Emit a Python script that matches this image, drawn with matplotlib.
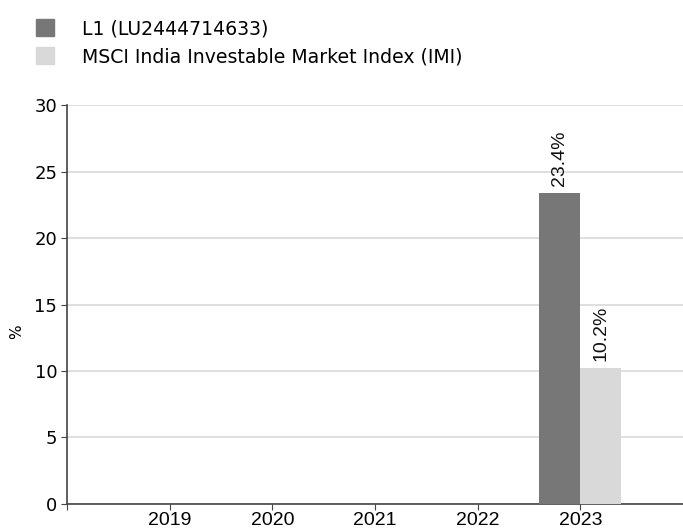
import numpy as np
import matplotlib.pyplot as plt
from matplotlib.patches import Patch

# Data
years = ["2019", "2020", "2021", "2022", "2023"]
fund = [np.nan, np.nan, np.nan, np.nan, 23.4]
index = [np.nan, np.nan, np.nan, np.nan, 10.2]
series_names = ["L1 (LU2444714633)", "MSCI India Investable Market Index (IMI)"]
colors = ["#777777", "#d9d9d9"]

fig = plt.figure(figsize=(6.83, 5.31), dpi=100)
ax = fig.add_axes([0.098, 0.051, 0.902, 0.751])

x = np.arange(len(years))
w = 0.4
b1 = ax.bar(x - w / 2, fund, w, color=colors[0], zorder=3)
b2 = ax.bar(x + w / 2, index, w, color=colors[1], zorder=3)

# value labels, rotated
for bars, vals in [(b1, fund), (b2, index)]:
    for rect, v in zip(bars, vals):
        if np.isnan(v):
            continue
        ax.annotate(f"{v:.1f}%", (rect.get_x() + rect.get_width() / 2, v),
                    xytext=(0, 5), textcoords="offset points",
                    rotation=90, ha="center", va="bottom", fontsize=14,
                    family="Liberation Sans", color="#111111")

ax.set_xlim(-1, 5)
ax.set_ylim(0, 30)
ax.set_yticks(np.arange(0, 31, 5))
ax.set_xticks(np.arange(-1, 5))
ax.set_xticklabels([""] + years, fontsize=14, family="Liberation Sans")
ax.tick_params(axis="y", labelsize=13, length=4, pad=3, color="#444444")
ax.tick_params(axis="x", length=4, pad=2, color="#444444")
ax.yaxis.grid(True, color="#d9d9d9", linewidth=1.2, zorder=0)
ax.set_axisbelow(True)

for s in ["top", "right"]:
    ax.spines[s].set_visible(False)
for s in ["left", "bottom"]:
    ax.spines[s].set_color("#444444")
    ax.spines[s].set_linewidth(1.2)

fig.text(17 / 683, 1 - 332 / 531, "%", rotation=90, fontsize=11,
         ha="center", va="center")

handles = [Patch(color=c, label=n) for c, n in zip(colors, series_names)]
fig.legend(handles=handles, loc="upper left", bbox_to_anchor=(0.028, 0.996),
           frameon=False, fontsize=13.6, handlelength=0.95, handleheight=0.95,
           handletextpad=1.5, labelspacing=0.47)

fig.savefig("out.png", dpi=100)
